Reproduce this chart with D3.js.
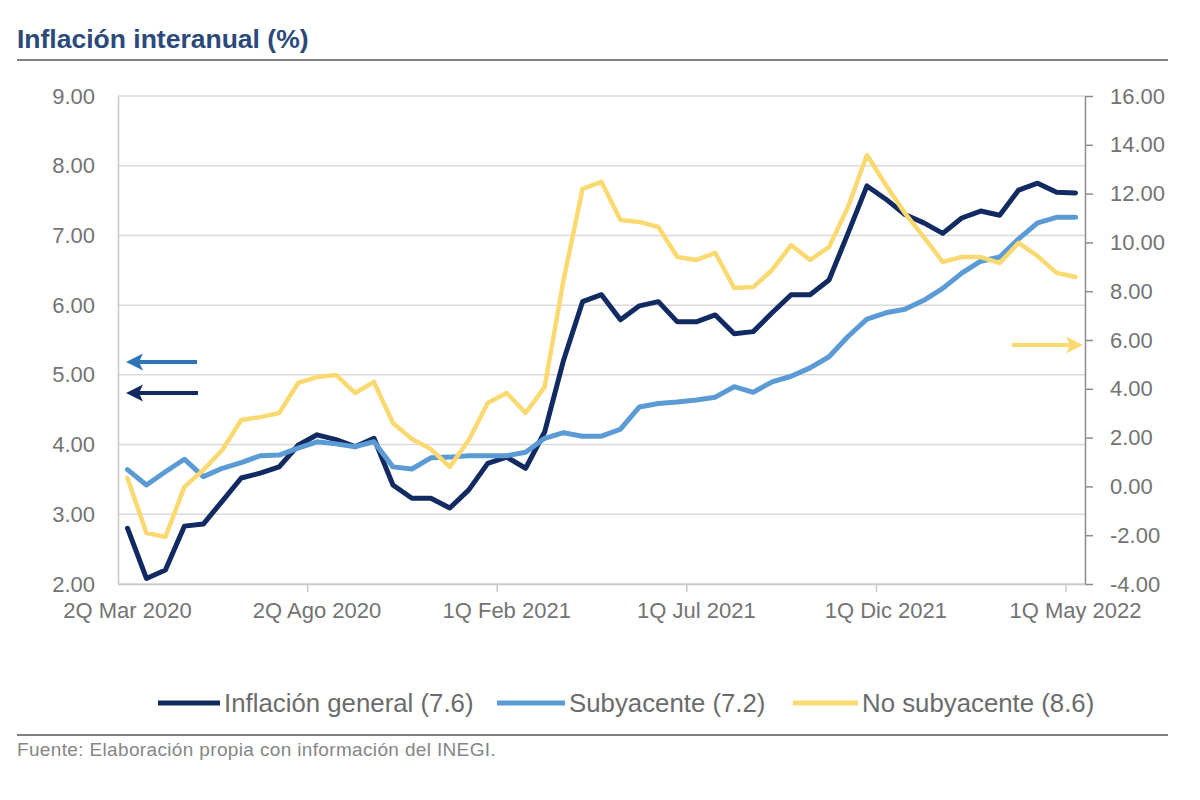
<!DOCTYPE html>
<html>
<head>
<meta charset="utf-8">
<script src="https://cdn.jsdelivr.net/npm/d3@7"></script>
<style>
  html, body { margin: 0; padding: 0; background: #ffffff; }
  svg { display: block; font-family: "Liberation Sans", Arial, sans-serif; }
</style>
</head>
<body>
<svg id="chart" width="1200" height="800"></svg>
<script>
// ---------------- DATA ----------------
const categories = [
  "2Q Mar 2020","1Q Abr 2020","2Q Abr 2020","1Q May 2020","2Q May 2020","1Q Jun 2020","2Q Jun 2020",
  "1Q Jul 2020","2Q Jul 2020","1Q Ago 2020","2Q Ago 2020","1Q Sep 2020","2Q Sep 2020","1Q Oct 2020",
  "2Q Oct 2020","1Q Nov 2020","2Q Nov 2020","1Q Dic 2020","2Q Dic 2020","1Q Ene 2021",
  "1Q Feb 2021","2Q Feb 2021","1Q Mar 2021","2Q Mar 2021","1Q Abr 2021","2Q Abr 2021","1Q May 2021",
  "2Q May 2021","1Q Jun 2021","2Q Jun 2021","1Q Jul 2021","2Q Jul 2021","1Q Ago 2021","2Q Ago 2021",
  "1Q Sep 2021","2Q Sep 2021","1Q Oct 2021","2Q Oct 2021","1Q Nov 2021","2Q Nov 2021","1Q Dic 2021",
  "2Q Dic 2021","1Q Ene 2022","2Q Ene 2022","1Q Feb 2022","2Q Feb 2022","1Q Mar 2022","2Q Mar 2022",
  "1Q Abr 2022","2Q Abr 2022","1Q May 2022"
];
const xTickLabels = ["2Q Mar 2020","2Q Ago 2020","1Q Feb 2021","1Q Jul 2021","1Q Dic 2021","1Q May 2022"];

// Inflación general (left axis)
const general = [2.80,2.08,2.20,2.83,2.86,3.19,3.52,3.59,3.68,3.99,
                 4.14,4.07,3.97,4.09,3.42,3.23,3.23,3.09,3.35,3.73,
                 3.82,3.66,4.18,5.21,6.05,6.15,5.79,5.99,6.05,5.76,
                 5.76,5.86,5.59,5.62,5.89,6.15,6.15,6.36,7.03,7.71,
                 7.52,7.30,7.18,7.03,7.25,7.35,7.29,7.65,7.75,7.62,7.61];
// Subyacente (left axis)
const subyacente = [3.64,3.42,3.61,3.79,3.54,3.66,3.74,3.84,3.85,3.95,
                    4.04,4.01,3.97,4.04,3.68,3.65,3.81,3.82,3.84,3.84,
                    3.84,3.89,4.09,4.17,4.12,4.12,4.22,4.54,4.59,4.61,
                    4.64,4.68,4.83,4.75,4.90,4.98,5.10,5.26,5.55,5.80,
                    5.89,5.94,6.07,6.24,6.46,6.63,6.69,6.95,7.18,7.26,7.26];
// No subyacente (right axis)
const noSubyacente = [0.34,-1.91,-2.07,-0.02,0.67,1.49,2.72,2.84,3.01,4.24,
                      4.48,4.57,3.83,4.28,2.60,1.94,1.53,0.80,1.90,3.42,
                      3.83,3.01,4.07,8.46,12.19,12.48,10.92,10.84,10.63,9.40,
                      9.28,9.57,8.13,8.17,8.87,9.89,9.28,9.81,11.45,13.58,
                      12.35,11.20,10.22,9.20,9.40,9.40,9.15,9.98,9.44,8.75,8.58];

const leftTicks = [2,3,4,5,6,7,8,9];
const rightTicks = [-4,-2,0,2,4,6,8,10,12,14,16];
const seriesNames = ["Inflación general (7.6)","Subyacente (7.2)","No subyacente (8.6)"];
const titleText = "Inflación interanual (%)";
const sourceText = "Fuente: Elaboración propia con información del INEGI.";

// ---------------- STYLE / LAYOUT ----------------
const colors = { general: "#112b62", sub: "#5b9bd5", nosub: "#fad971", arrowBlue: "#2e75b6", arrowDark: "#112b62" };
const plot = { left: 118, right: 1085, top: 96, bottom: 584 };
const svg = d3.select("#chart");
const fmt = d => d.toFixed(2); // hyphen-minus like the original

const x = d3.scaleBand().domain(categories).range([plot.left, plot.right]).paddingInner(0).paddingOuter(0);
const cx = c => x(c) + x.bandwidth() / 2;
const yL = d3.scaleLinear().domain([2, 9]).range([plot.bottom, plot.top]);
const yR = d3.scaleLinear().domain([-4, 16]).range([plot.bottom, plot.top]);

// Title
svg.append("text").attr("x", 17).attr("y", 48)
  .attr("font-size", 26.5).attr("font-weight", "bold").attr("fill", "#2b4a7b")
  .text(titleText);
svg.append("line").attr("x1", 17).attr("x2", 1168).attr("y1", 60).attr("y2", 60)
  .attr("stroke", "#808080").attr("stroke-width", 2);

// Gridlines
svg.append("g").selectAll("line").data(leftTicks).join("line")
  .attr("x1", plot.left).attr("x2", plot.right)
  .attr("y1", d => yL(d)).attr("y2", d => yL(d))
  .attr("stroke", "#d9d9d9").attr("stroke-width", 1.5);

// Left axis
const gL = svg.append("g").attr("transform", `translate(${plot.left},0)`)
  .call(d3.axisLeft(yL).tickValues(leftTicks).tickFormat(fmt).tickSize(0).tickSizeOuter(0).tickPadding(23));
gL.select(".domain").attr("stroke", "#c8c8c8").attr("stroke-width", 1.5);
gL.selectAll("text").attr("font-size", 22).attr("fill", "#737373").attr("font-family", "Liberation Sans, Arial, sans-serif");

// Right axis
const gR = svg.append("g").attr("transform", `translate(${plot.right},0)`)
  .call(d3.axisRight(yR).tickValues(rightTicks).tickFormat(fmt).tickSize(8).tickSizeOuter(0).tickPadding(17));
gR.select(".domain").attr("stroke", "#8c8c8c").attr("stroke-width", 1.5);
gR.selectAll(".tick line").attr("stroke", "#8c8c8c").attr("stroke-width", 1.5);
gR.selectAll("text").attr("font-size", 22).attr("fill", "#737373").attr("font-family", "Liberation Sans, Arial, sans-serif");

// Bottom axis
const gB = svg.append("g").attr("transform", `translate(0,${plot.bottom})`)
  .call(d3.axisBottom(x).tickValues(xTickLabels).tickSize(0).tickSizeOuter(0).tickPadding(18));
gB.select(".domain").attr("stroke", "#c8c8c8").attr("stroke-width", 1.5);
gB.selectAll("text").attr("font-size", 22).attr("fill", "#737373").attr("font-family", "Liberation Sans, Arial, sans-serif");
// tick marks at category boundaries
svg.append("g").selectAll("line").data(xTickLabels.slice(1)).join("line")
  .attr("x1", d => x(d)).attr("x2", d => x(d))
  .attr("y1", plot.bottom).attr("y2", plot.bottom + 8)
  .attr("stroke", "#c8c8c8").attr("stroke-width", 1.5);

// Lines
const lineL = d3.line().x((d, i) => cx(categories[i])).y(d => yL(d)).curve(d3.curveLinear);
const lineR = d3.line().x((d, i) => cx(categories[i])).y(d => yR(d)).curve(d3.curveLinear);

svg.append("path").datum(general).attr("d", lineL)
  .attr("fill", "none").attr("stroke", colors.general).attr("stroke-width", 5).attr("stroke-linejoin", "round").attr("stroke-linecap", "round");
svg.append("path").datum(subyacente).attr("d", lineL)
  .attr("fill", "none").attr("stroke", colors.sub).attr("stroke-width", 5).attr("stroke-linejoin", "round").attr("stroke-linecap", "round");
svg.append("path").datum(noSubyacente).attr("d", lineR)
  .attr("fill", "none").attr("stroke", colors.nosub).attr("stroke-width", 4.5).attr("stroke-linejoin", "round").attr("stroke-linecap", "round");

// Arrows
function arrow(x1, x2, y, color, dir) {
  const g = svg.append("g");
  const tip = dir < 0 ? x1 : x2;
  const base = tip - dir * 17;
  const tail = dir < 0 ? x2 : x1;
  g.append("line").attr("x1", tail).attr("x2", base + dir * 4).attr("y1", y).attr("y2", y)
    .attr("stroke", color).attr("stroke-width", 4);
  g.append("path").attr("d", `M${tip},${y} L${base},${y - 8.5} L${base + dir * 4},${y} L${base},${y + 8.5} Z`)
    .attr("fill", color);
}
arrow(126, 197, 362, colors.arrowBlue, -1);
arrow(126, 198, 393, colors.arrowDark, -1);
arrow(1012, 1083, 345, colors.nosub, 1);

// Legend
const legendItems = [
  { name: seriesNames[0], color: colors.general, x1: 158, x2: 220 },
  { name: seriesNames[1], color: colors.sub, x1: 497, x2: 565 },
  { name: seriesNames[2], color: colors.nosub, x1: 793, x2: 858 }
];
const lg = svg.append("g");
legendItems.forEach(it => {
  lg.append("line").attr("x1", it.x1).attr("x2", it.x2).attr("y1", 703).attr("y2", 703)
    .attr("stroke", it.color).attr("stroke-width", 5);
  lg.append("text").attr("x", it.x2 + 4).attr("y", 703).attr("dy", "0.35em")
    .attr("font-size", 25.8).attr("fill", "#6b6b6b").text(it.name);
});

// Bottom rule and source
svg.append("line").attr("x1", 17).attr("x2", 1168).attr("y1", 735).attr("y2", 735)
  .attr("stroke", "#808080").attr("stroke-width", 2);
svg.append("text").attr("x", 17).attr("y", 756).attr("font-size", 19).attr("letter-spacing", 0.35)
  .attr("fill", "#858585").text(sourceText);
</script>
</body>
</html>
